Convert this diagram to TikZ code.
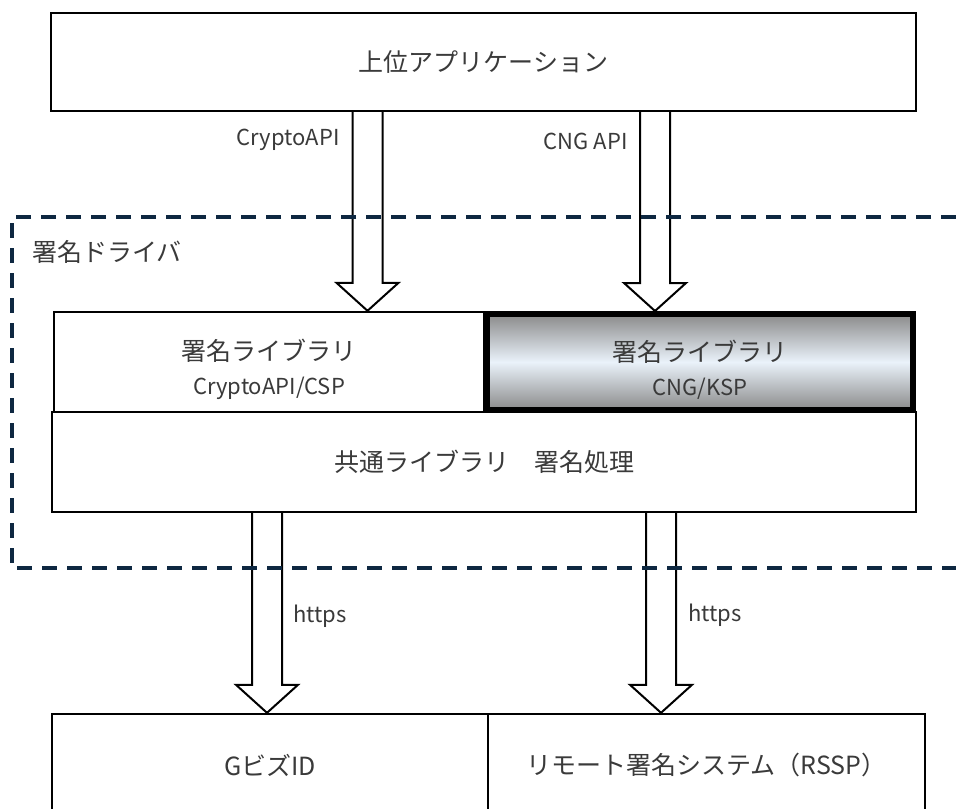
\documentclass[tikz,border=0pt]{standalone}
\usepackage{fontspec}
\setmainfont{Noto Sans CJK JP}
\usepackage{tikz}
\usetikzlibrary{calc}
\definecolor{sdInk}{HTML}{3A3A3A}
\definecolor{sdFrame}{HTML}{0E2841}
\definecolor{sdShadeOut}{HTML}{8A8A8A}
\definecolor{sdShadeIn}{HTML}{EAF2FA}
\tikzset{
  sd diagram/.style={font=\fontsize{12.5pt}{15pt}\selectfont, text=sdInk,
    line join=miter},
  sd box/.style={draw=black, fill=white, line width=1.2pt,
    inner sep=0pt, align=center},
  sd key box/.style={sd box, line width=3pt, top color=sdShadeOut,
    bottom color=sdShadeOut, middle color=sdShadeIn},
  sd fat arrow/.style={draw=black, line width=1pt},
  sd label/.style={font=\fontsize{11pt}{13pt}\selectfont, inner sep=0pt},
  sd frame/.style={draw=sdFrame, line width=1.6pt,
    dash pattern=on 7.5pt off 5pt}
}
\newcommand{\sdsub}{\fontsize{11pt}{13pt}\selectfont}
% hollow block arrow: #1 start on a box edge, #2 tip
\newcommand{\sdarrow}[2]{%
  \draw[sd fat arrow] let \p1=(#1), \p2=(#2) in
    (\x1-7.5pt,\y1) -- (\x1-7.5pt,\y2+14pt) -- (\x1-15.5pt,\y2+14pt)
    -- (\x1,\y2) -- (\x1+15.5pt,\y2+14pt) -- (\x1+7.5pt,\y2+14pt)
    -- (\x1+7.5pt,\y1);}

\begin{document}
\begin{tikzpicture}[sd diagram,x=0.5pt,y=-0.5pt]
\useasboundingbox (0,0) rectangle (956,808);
% layers
\node[sd box, minimum width=432.5pt, minimum height=49pt] (app) at (483.5,62) {上位アプリケーション};
\node[sd box, minimum width=215pt, minimum height=50pt] (libcsp) at (269,362)
  {\rule{0pt}{18pt}署名ライブラリ\\[2pt]{\sdsub CryptoAPI/CSP}};
\node[sd key box, minimum width=213pt, minimum height=48pt] (libksp) at (700,362)
  {\rule{0pt}{18pt}署名ライブラリ\\[2pt]{\sdsub CNG/KSP}};
\node[sd box, minimum width=432pt, minimum height=50pt] (common) at (484,462) {共通ライブラリ　署名処理};
\node[sd box, minimum width=218pt, minimum height=51pt] (gbiz) at (270,765) {GビズID};
\node[sd box, minimum width=218.5pt, minimum height=51pt] (rssp) at (706.5,765) {リモート署名システム（RSSP）};

% block arrows
\coordinate (cryptoin) at (367.5,0);
\coordinate (cngin) at (655,0);
\coordinate (gbizin) at (267,0);
\coordinate (rsspin) at (661,0);
\sdarrow{app.south -| cryptoin}{libcsp.north -| cryptoin}
\sdarrow{app.south -| cngin}{libksp.north -| cngin}
\sdarrow{common.south -| gbizin}{gbiz.north -| gbizin}
\sdarrow{common.south -| rsspin}{rssp.north -| rsspin}

% driver frame, open to the right
\draw[sd frame] (956,217) -| (12,568) -- (956,568);
\node[anchor=west, inner sep=0pt] (drvlbl) at (32,252) {署名ドライバ};

\node[sd label, anchor=east] (cryptolbl) at (340,140) {CryptoAPI};
\node[sd label, anchor=east] (cnglbl) at (628,141) {CNG API};
\node[sd label, anchor=west] (httpsl) at (293,616) {https};
\node[sd label, anchor=west] (httpsr) at (688,615) {https};
\end{tikzpicture}
\end{document}
